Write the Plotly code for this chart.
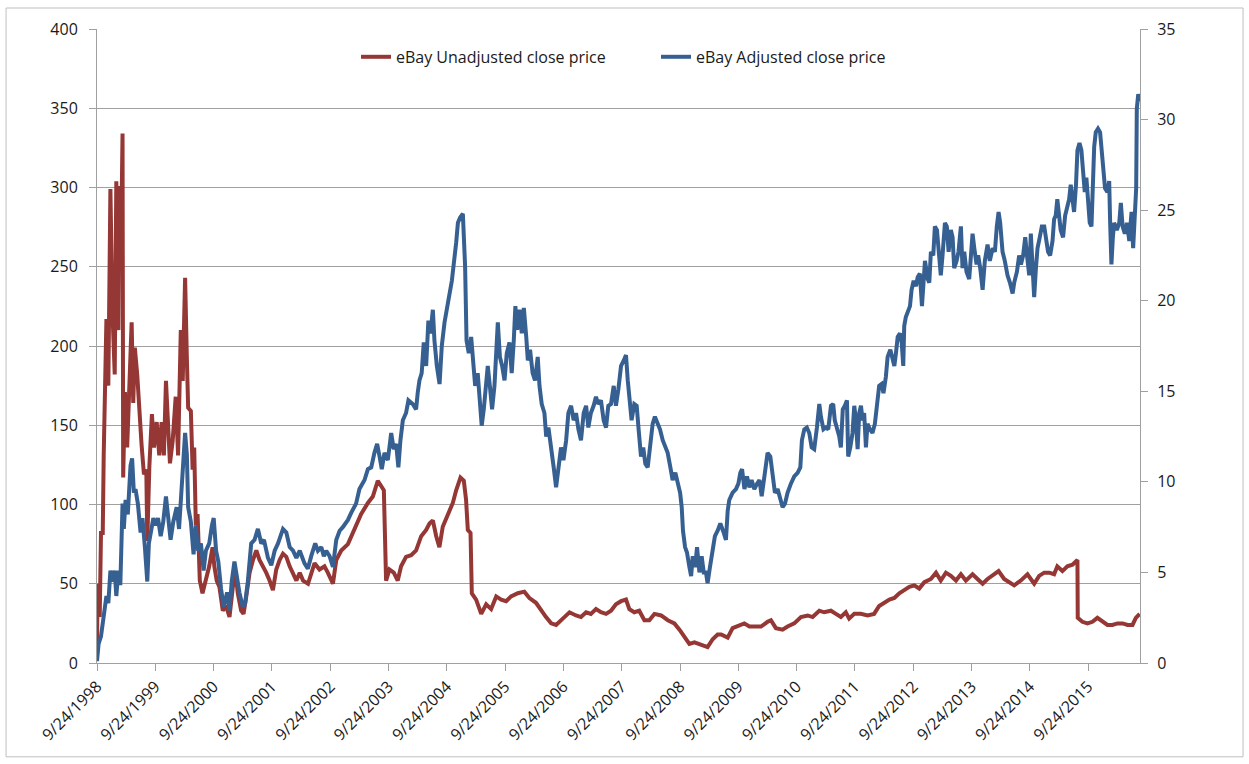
import plotly.graph_objects as go

# ---------------- data ----------------
unadj_dates = [
    "1998-09-24", "1998-09-28", "1998-10-11", "1998-10-19", "1998-10-30", "1998-11-05", "1998-11-22",
    "1998-12-04", "1998-12-17", "1998-12-29", "1999-01-13", "1999-01-23", "1999-02-05", "1999-02-11",
    "1999-02-20", "1999-03-03", "1999-03-07", "1999-03-18", "1999-04-01", "1999-04-18", "1999-04-29",
    "1999-05-09", "1999-05-19", "1999-06-03", "1999-06-20", "1999-06-30", "1999-07-15", "1999-07-30",
    "1999-08-05", "1999-08-18", "1999-09-03", "1999-09-16", "1999-10-03", "1999-10-19", "1999-11-03",
    "1999-11-17", "1999-11-30", "1999-12-12", "1999-12-25", "2000-01-11", "2000-01-30", "2000-02-14",
    "2000-03-02", "2000-03-14", "2000-03-29", "2000-04-09", "2000-04-17", "2000-05-04", "2000-05-15",
    "2000-05-25", "2000-06-04", "2000-06-15", "2000-06-29", "2000-07-16", "2000-08-06", "2000-08-27",
    "2000-09-17", "2000-09-28", "2000-10-13", "2000-10-30", "2000-11-20", "2000-12-11", "2001-01-01",
    "2001-01-22", "2001-02-08", "2001-02-22", "2001-03-15", "2001-03-30", "2001-04-16", "2001-05-07",
    "2001-05-28", "2001-06-18", "2001-07-08", "2001-07-30", "2001-08-19", "2001-09-09", "2001-09-30",
    "2001-10-21", "2001-11-11", "2001-12-02", "2001-12-23", "2002-01-13", "2002-02-03", "2002-02-24",
    "2002-03-17", "2002-04-07", "2002-05-08", "2002-06-18", "2002-07-19", "2002-08-19", "2002-09-09",
    "2002-10-11", "2002-11-01", "2002-12-02", "2003-01-13", "2003-02-23", "2003-04-06", "2003-05-18",
    "2003-06-18", "2003-07-19", "2003-08-09", "2003-08-26", "2003-09-09", "2003-09-30", "2003-10-27",
    "2003-11-21", "2003-12-12", "2004-01-12", "2004-02-13", "2004-03-15", "2004-04-16", "2004-05-17",
    "2004-06-07", "2004-06-28", "2004-07-19", "2004-08-08", "2004-08-29", "2004-09-30", "2004-10-31",
    "2004-11-21", "2004-12-18", "2005-01-08", "2005-01-22", "2005-02-02", "2005-02-19", "2005-02-27",
    "2005-03-26", "2005-04-27", "2005-05-28", "2005-06-28", "2005-07-30", "2005-08-30", "2005-09-30",
    "2005-10-31", "2005-12-12", "2006-01-22", "2006-02-23", "2006-04-05", "2006-05-07", "2006-06-07",
    "2006-07-09", "2006-08-09", "2006-09-20", "2006-11-01", "2006-12-12", "2007-01-12", "2007-02-13",
    "2007-03-15", "2007-04-16", "2007-05-17", "2007-06-18", "2007-07-19", "2007-08-19", "2007-09-20",
    "2007-10-21", "2007-11-11", "2007-12-12", "2008-01-12", "2008-02-13", "2008-03-15", "2008-04-16",
    "2008-05-28", "2008-07-09", "2008-08-19", "2008-09-20", "2008-10-21", "2008-11-21", "2008-12-23",
    "2009-01-23", "2009-02-23", "2009-03-15", "2009-04-16", "2009-05-17", "2009-06-08", "2009-07-19",
    "2009-08-19", "2009-09-30", "2009-10-31", "2009-12-02", "2010-01-02", "2010-02-13", "2010-03-26",
    "2010-04-16", "2010-05-17", "2010-06-28", "2010-07-29", "2010-09-09", "2010-10-21", "2010-12-02",
    "2011-01-02", "2011-02-13", "2011-03-15", "2011-04-27", "2011-05-28", "2011-06-28", "2011-07-29",
    "2011-08-19", "2011-09-20", "2011-10-31", "2011-12-12", "2012-01-22", "2012-02-23", "2012-03-26",
    "2012-04-27", "2012-05-28", "2012-06-28", "2012-07-29", "2012-08-30", "2012-09-30", "2012-10-31",
    "2012-12-02", "2013-01-12", "2013-02-13", "2013-03-15", "2013-04-16", "2013-05-17", "2013-06-18",
    "2013-07-19", "2013-08-19", "2013-09-30", "2013-10-31", "2013-12-02", "2014-01-02", "2014-02-03",
    "2014-03-12", "2014-04-16", "2014-05-17", "2014-06-18", "2014-07-29", "2014-09-09", "2014-10-21",
    "2014-11-21", "2014-12-23", "2015-01-23", "2015-02-23", "2015-03-15", "2015-04-16", "2015-05-17",
    "2015-06-18", "2015-07-19", "2015-07-21", "2015-08-19", "2015-09-20", "2015-10-21", "2015-11-21",
    "2015-12-23", "2016-01-23", "2016-02-23", "2016-03-26", "2016-04-27", "2016-05-28", "2016-06-28",
    "2016-07-19", "2016-08-12",
]
unadj_close = [
    10, 50, 29, 82, 82, 131, 217,
    175, 299, 224, 182, 304, 210, 301,
    250, 334, 117, 171, 136, 194, 215,
    164, 199, 182, 152, 138, 119, 122,
    77, 124, 157, 136, 152, 131, 152,
    131, 178, 157, 126, 140, 168, 131,
    210, 178, 243, 192, 161, 159, 122,
    136, 87, 94, 52, 44, 52, 61,
    73, 61, 52, 48, 33, 36, 29,
    48, 57, 44, 33, 31, 42, 57,
    65, 71, 65, 61, 57, 52, 46,
    59, 65, 69, 67, 61, 57, 52,
    57, 52, 50, 63, 59, 61, 57,
    50, 65, 71, 75, 84, 94, 101,
    105, 115, 111, 109, 52, 59, 57,
    52, 61, 67, 68, 71, 80, 84,
    88, 90, 80, 73, 86, 94, 101,
    109, 117, 115, 103, 84, 82, 44,
    40, 31, 37, 34, 42, 40, 39,
    42, 44, 45, 41, 38, 33, 29,
    25, 24, 28, 32, 30, 29, 32,
    31, 34, 32, 31, 33, 37, 39,
    40, 34, 32, 33, 27, 27, 31,
    30, 27, 25, 21, 16, 12, 13,
    12, 11, 10, 15, 18, 18, 16,
    22, 24, 25, 23, 23, 23, 26,
    27, 22, 21, 23, 25, 29, 30,
    29, 33, 32, 33, 31, 29, 32,
    28, 31, 31, 30, 31, 36, 38,
    40, 41, 44, 46, 48, 49, 47,
    51, 53, 57, 52, 57, 55, 52,
    56, 52, 56, 53, 50, 53, 55,
    58, 53, 51, 49, 52, 56, 50,
    55, 57, 57, 56, 61, 58, 61,
    62, 65, 28.5, 26, 25, 26, 28.5,
    26, 24, 24, 25, 25, 24, 24,
    28.5, 31,
]

adj_dates = [
    "1998-09-24", "1998-10-04", "1998-10-19", "1998-11-05", "1998-11-22", "1998-12-04", "1998-12-17",
    "1998-12-29", "1999-01-13", "1999-01-23", "1999-02-05", "1999-02-17", "1999-03-03", "1999-03-11",
    "1999-03-22", "1999-04-05", "1999-04-22", "1999-05-02", "1999-05-13", "1999-05-23", "1999-06-07",
    "1999-06-24", "1999-07-06", "1999-07-21", "1999-08-05", "1999-08-15", "1999-08-30", "1999-09-12",
    "1999-09-26", "1999-10-11", "1999-10-28", "1999-11-13", "1999-11-30", "1999-12-14", "1999-12-29",
    "2000-01-15", "2000-02-05", "2000-02-20", "2000-03-06", "2000-03-18", "2000-03-29", "2000-04-09",
    "2000-04-17", "2000-05-04", "2000-05-21", "2000-06-04", "2000-06-19", "2000-07-06", "2000-07-23",
    "2000-08-06", "2000-08-27", "2000-09-13", "2000-09-24", "2000-10-09", "2000-10-23", "2000-11-09",
    "2000-11-26", "2000-12-17", "2001-01-01", "2001-01-15", "2001-02-01", "2001-02-14", "2001-03-04",
    "2001-03-25", "2001-04-09", "2001-04-26", "2001-05-17", "2001-06-07", "2001-06-28", "2001-07-19",
    "2001-08-05", "2001-08-30", "2001-09-20", "2001-10-11", "2001-11-01", "2001-12-02", "2001-12-23",
    "2002-01-13", "2002-02-03", "2002-02-24", "2002-03-17", "2002-04-16", "2002-05-07", "2002-05-28",
    "2002-06-22", "2002-07-09", "2002-07-30", "2002-08-15", "2002-08-30", "2002-09-20", "2002-10-11",
    "2002-11-01", "2002-11-22", "2002-12-12", "2003-01-13", "2003-02-03", "2003-03-05", "2003-03-26",
    "2003-04-27", "2003-05-18", "2003-06-08", "2003-06-28", "2003-07-15", "2003-07-30", "2003-08-13",
    "2003-08-30", "2003-09-20", "2003-10-11", "2003-10-27", "2003-11-11", "2003-11-25", "2003-12-08",
    "2003-12-23", "2004-01-12", "2004-01-27", "2004-02-23", "2004-03-15", "2004-03-25", "2004-04-05",
    "2004-04-19", "2004-05-02", "2004-05-17", "2004-05-31", "2004-06-13", "2004-06-28", "2004-07-08",
    "2004-07-23", "2004-08-09", "2004-08-23", "2004-09-09", "2004-09-24", "2004-10-11", "2004-10-25",
    "2004-11-11", "2004-11-21", "2004-12-02", "2004-12-16", "2005-01-02", "2005-01-08", "2005-01-16",
    "2005-01-25", "2005-02-08", "2005-02-23", "2005-03-05", "2005-03-20", "2005-04-05", "2005-04-16",
    "2005-04-30", "2005-05-13", "2005-05-28", "2005-06-07", "2005-06-20", "2005-07-04", "2005-07-19",
    "2005-08-01", "2005-08-09", "2005-08-22", "2005-09-05", "2005-09-20", "2005-10-04", "2005-10-21",
    "2005-11-04", "2005-11-17", "2005-11-27", "2005-12-08", "2005-12-23", "2006-01-06", "2006-01-19",
    "2006-02-03", "2006-02-13", "2006-02-27", "2006-03-15", "2006-03-30", "2006-04-16", "2006-04-27",
    "2006-05-11", "2006-05-28", "2006-06-08", "2006-06-22", "2006-07-09", "2006-07-25", "2006-08-09",
    "2006-08-23", "2006-09-09", "2006-09-24", "2006-10-11", "2006-10-25", "2006-11-11", "2006-11-27",
    "2006-12-12", "2006-12-27", "2007-01-12", "2007-01-29", "2007-02-13", "2007-02-27", "2007-03-15",
    "2007-04-01", "2007-04-16", "2007-04-30", "2007-05-17", "2007-06-03", "2007-06-18", "2007-07-02",
    "2007-07-19", "2007-08-05", "2007-08-19", "2007-09-03", "2007-09-20", "2007-10-07", "2007-10-21",
    "2007-11-01", "2007-11-13", "2007-11-25", "2007-12-12", "2007-12-27", "2008-01-08", "2008-01-23",
    "2008-02-06", "2008-02-19", "2008-03-05", "2008-03-21", "2008-04-05", "2008-04-19", "2008-05-06",
    "2008-05-21", "2008-06-07", "2008-06-24", "2008-07-08", "2008-07-25", "2008-08-08", "2008-08-25",
    "2008-09-09", "2008-09-24", "2008-10-04", "2008-10-12", "2008-10-25", "2008-11-06", "2008-11-21",
    "2008-12-02", "2008-12-12", "2008-12-27", "2009-01-08", "2009-01-23", "2009-02-06", "2009-02-19",
    "2009-03-05", "2009-03-15", "2009-03-30", "2009-04-16", "2009-04-30", "2009-05-17", "2009-06-03",
    "2009-06-24", "2009-07-08", "2009-07-19", "2009-07-29", "2009-08-19", "2009-09-09", "2009-09-24",
    "2009-10-06", "2009-10-17", "2009-11-01", "2009-11-17", "2009-12-02", "2009-12-16", "2010-01-02",
    "2010-01-19", "2010-02-03", "2010-02-17", "2010-03-06", "2010-03-26", "2010-04-12", "2010-04-27",
    "2010-05-11", "2010-05-28", "2010-06-13", "2010-06-28", "2010-07-13", "2010-07-29", "2010-08-19",
    "2010-09-09", "2010-09-30", "2010-10-17", "2010-10-27", "2010-11-11", "2010-11-27", "2010-12-12",
    "2010-12-27", "2011-01-12", "2011-01-29", "2011-02-13", "2011-02-23", "2011-03-11", "2011-03-26",
    "2011-04-10", "2011-04-27", "2011-05-11", "2011-05-21", "2011-06-03", "2011-06-18", "2011-06-28",
    "2011-07-10", "2011-07-23", "2011-08-05", "2011-08-13", "2011-08-26", "2011-09-09", "2011-09-20",
    "2011-09-30", "2011-10-11", "2011-10-21", "2011-11-01", "2011-11-11", "2011-11-21", "2011-12-02",
    "2011-12-12", "2011-12-27", "2012-01-12", "2012-01-27", "2012-02-13", "2012-02-23", "2012-03-09",
    "2012-03-21", "2012-04-05", "2012-04-16", "2012-05-03", "2012-05-17", "2012-05-28", "2012-06-07",
    "2012-06-18", "2012-07-02", "2012-07-13", "2012-07-23", "2012-07-29", "2012-08-08", "2012-08-19",
    "2012-09-03", "2012-09-13", "2012-09-26", "2012-10-11", "2012-10-21", "2012-11-04", "2012-11-17",
    "2012-12-06", "2012-12-23", "2013-01-02", "2013-01-12", "2013-01-27", "2013-02-06", "2013-02-19",
    "2013-03-05", "2013-03-15", "2013-03-26", "2013-04-10", "2013-04-22", "2013-05-03", "2013-05-17",
    "2013-05-28", "2013-06-07", "2013-06-22", "2013-07-04", "2013-07-19", "2013-07-29", "2013-08-09",
    "2013-08-23", "2013-09-09", "2013-09-20", "2013-09-30", "2013-10-11", "2013-10-25", "2013-11-04",
    "2013-11-17", "2013-12-02", "2013-12-16", "2014-01-02", "2014-01-16", "2014-02-03", "2014-02-17",
    "2014-03-01", "2014-03-12", "2014-03-22", "2014-04-06", "2014-04-20", "2014-05-07", "2014-05-22",
    "2014-06-08", "2014-06-18", "2014-07-05", "2014-07-19", "2014-07-30", "2014-08-13", "2014-08-26",
    "2014-09-06", "2014-09-20", "2014-09-30", "2014-10-11", "2014-10-21", "2014-11-01", "2014-11-11",
    "2014-11-25", "2014-12-08", "2014-12-23", "2015-01-04", "2015-01-16", "2015-01-29", "2015-02-13",
    "2015-02-23", "2015-03-05", "2015-03-15", "2015-03-26", "2015-04-05", "2015-04-20", "2015-05-03",
    "2015-05-17", "2015-05-28", "2015-06-07", "2015-06-18", "2015-06-28", "2015-07-10", "2015-07-19",
    "2015-08-01", "2015-08-13", "2015-08-23", "2015-09-03", "2015-09-13", "2015-09-24", "2015-10-04",
    "2015-10-15", "2015-10-23", "2015-11-01", "2015-11-11", "2015-11-25", "2015-12-08", "2015-12-18",
    "2015-12-29", "2016-01-08", "2016-01-23", "2016-02-03", "2016-02-09", "2016-02-17", "2016-02-26",
    "2016-03-05", "2016-03-22", "2016-04-06", "2016-04-16", "2016-04-27", "2016-05-11", "2016-05-24",
    "2016-06-08", "2016-06-22", "2016-07-02", "2016-07-13", "2016-07-21", "2016-07-25", "2016-08-03",
    "2016-08-12",
]
adj_close = [
    0.1, 1.06, 1.47, 2.7, 3.7, 3.3, 5.1,
    4.5, 5.1, 3.7, 5.1, 4.3, 8.8, 7.4,
    9.0, 8.2, 10.9, 11.3, 9.4, 9.6, 8.8,
    7.2, 8.0, 6.4, 4.5, 6.6, 7.4, 8.0,
    7.6, 8.0, 7.0, 7.8, 9.2, 7.8, 6.8,
    7.8, 8.6, 7.4, 9.4, 10.9, 12.7, 11.5,
    8.6, 7.8, 6.0, 7.6, 6.2, 6.6, 5.1,
    6.2, 6.6, 7.6, 8.0, 6.2, 5.6, 4.1,
    3.1, 3.9, 2.9, 4.5, 5.6, 4.9, 3.9,
    3.1, 3.3, 4.5, 6.6, 6.8, 7.4, 6.6,
    6.8, 5.8, 5.4, 6.2, 6.6, 7.4, 7.2,
    6.4, 6.2, 5.8, 6.2, 5.5, 5.2, 5.9,
    6.6, 6.2, 6.4, 5.9, 6.2, 5.9, 5.3,
    6.8, 7.3, 7.5, 7.9, 8.3, 8.8, 9.6,
    10.1, 10.7, 10.8, 11.6, 12.1, 11.4, 10.7,
    11.6, 11.2, 12.7, 11.8, 12.1, 10.8, 12.3,
    13.4, 13.8, 14.5, 14.3, 14.0, 14.9, 15.6,
    16.0, 17.7, 16.4, 18.9, 18.2, 19.5, 17.8,
    16.4, 15.4, 17.5, 18.8, 19.7, 20.4, 21.1,
    22.3, 23.2, 24.3, 24.6, 24.8, 23.4, 21.9,
    17.8, 17.1, 18.0, 17.1, 15.3, 16.0, 14.5,
    13.1, 14.0, 15.6, 16.4, 15.3, 14.0, 15.3,
    17.7, 18.8, 16.9, 16.4, 15.6, 17.1, 17.7,
    16.0, 17.8, 19.7, 18.4, 19.5, 18.2, 19.6,
    18.0, 16.7, 17.3, 16.0, 15.6, 16.9, 15.3,
    14.3, 13.8, 12.5, 13.0, 11.6, 10.8, 9.7,
    10.8, 11.9, 11.2, 12.3, 13.8, 14.2, 13.4,
    13.8, 12.9, 12.3, 13.8, 14.2, 13.0, 13.8,
    14.2, 14.7, 14.3, 14.5, 13.4, 13.0, 14.2,
    14.3, 15.3, 14.2, 15.1, 16.4, 16.7, 17.0,
    15.6, 14.2, 13.4, 14.3, 14.2, 12.9, 11.4,
    11.9, 11.0, 10.8, 11.9, 13.2, 13.6, 13.2,
    12.9, 12.3, 11.9, 11.6, 10.8, 10.1, 10.5,
    9.9, 9.4, 8.6, 7.3, 6.4, 6.1, 5.3,
    4.8, 5.9, 5.3, 6.4, 5.0, 5.9, 5.0,
    5.0, 4.4, 5.3, 6.1, 7.0, 7.3, 7.7,
    7.2, 6.8, 8.4, 9.0, 9.4, 9.6, 9.9,
    10.5, 10.7, 9.6, 10.3, 9.7, 10.1, 9.6,
    9.9, 10.1, 9.2, 10.5, 11.6, 11.4, 10.5,
    9.4, 9.6, 9.0, 8.6, 8.8, 9.4, 9.9,
    10.3, 10.5, 10.8, 12.3, 12.9, 13.0, 12.7,
    11.9, 11.8, 13.0, 14.3, 13.6, 12.9, 13.0,
    12.9, 14.2, 14.3, 13.4, 13.0, 12.5, 11.9,
    14.0, 14.2, 14.5, 11.4, 11.9, 12.7, 14.2,
    13.4, 11.8, 13.8, 14.2, 13.4, 13.8, 11.9,
    13.2, 12.9, 12.7, 13.2, 14.5, 15.3, 15.4,
    14.9, 15.8, 16.9, 17.3, 16.7, 16.4, 17.1,
    18.0, 18.2, 17.7, 16.4, 18.6, 19.1, 19.3,
    19.7, 20.6, 21.1, 20.8, 21.3, 21.5, 19.7,
    22.2, 21.2, 21.0, 22.7, 22.5, 24.1, 23.9,
    22.2, 21.4, 22.5, 24.3, 24.1, 22.7, 23.9,
    23.5, 21.8, 22.2, 22.7, 24.1, 21.8, 22.7,
    21.6, 21.2, 22.5, 23.7, 22.9, 22.0, 22.5,
    21.8, 20.6, 22.2, 23.1, 22.2, 22.9, 22.7,
    24.1, 24.9, 24.3, 22.7, 22.2, 21.4, 21.0,
    20.4, 21.0, 21.6, 22.5, 22.0, 22.5, 23.5,
    22.5, 21.4, 23.7, 21.8, 20.2, 21.8, 22.9,
    23.5, 24.1, 24.1, 23.5, 22.7, 22.5, 23.3,
    24.5, 24.7, 25.6, 24.5, 23.9, 23.5, 24.7,
    25.2, 25.6, 26.4, 25.4, 24.9, 26.4, 28.3,
    28.7, 28.3, 27.2, 26.0, 26.8, 25.4, 24.3,
    24.1, 26.4, 28.5, 29.3, 29.5, 29.3, 28.3,
    27.7, 26.2, 26.0, 26.6, 24.3, 22.0, 23.5,
    24.3, 23.9, 24.3, 25.4, 24.1, 23.7, 24.3,
    23.3, 24.9, 22.9, 24.9, 26.2, 30.6, 31.4,
    31.0,
]

tick_dates = ["%d-09-24" % y for y in range(1998, 2016)]
tick_labels = ["9/24/%d" % y for y in range(1998, 2016)]

RED = "#953735"
BLUE = "#376092"
GRID = "#a0a0a0"
FONT = "Open Sans"
FSIZE = 16
TXT = "#1a1a1a"

fig = go.Figure()
fig.add_trace(go.Scatter(
    x=unadj_dates, y=unadj_close, mode="lines", name="eBay Unadjusted close price",
    line=dict(color=RED, width=4), yaxis="y",
))
fig.add_trace(go.Scatter(
    x=adj_dates, y=adj_close, mode="lines", name="eBay Adjusted close price",
    line=dict(color=BLUE, width=4), yaxis="y2",
))

fig.update_layout(
    width=1249, height=764,
    margin=dict(l=97, r=109, t=29, b=101),
    paper_bgcolor="white", plot_bgcolor="white",
    font=dict(family=FONT, size=FSIZE, color=TXT),
    showlegend=True,
    legend=dict(
        orientation="h", x=0.2483, xanchor="left", y=0.956, yanchor="middle",
        font=dict(family=FONT, size=FSIZE, color=TXT),
        bgcolor="rgba(0,0,0,0)", entrywidth=255, entrywidthmode="pixels",
    ),
    xaxis=dict(
        type="date", range=["1998-09-24", "2016-08-14"],
        tickmode="array", tickvals=tick_dates, ticktext=tick_labels,
        tickangle=-45, showgrid=False, zeroline=False,
        showline=True, linecolor=GRID, linewidth=1,
        ticks="outside", ticklen=7, tickcolor=GRID,
        tickfont=dict(family=FONT, size=FSIZE, color=TXT),
    ),
    yaxis=dict(
        range=[0, 400], dtick=50, tick0=0,
        showgrid=True, gridcolor=GRID, gridwidth=1, zeroline=False,
        showline=True, linecolor=GRID, linewidth=1,
        ticks="outside", ticklen=7, tickcolor=GRID,
        tickfont=dict(family=FONT, size=FSIZE, color=TXT),
        ticklabelstandoff=8,
    ),
    yaxis2=dict(
        range=[0, 35], dtick=5, tick0=0, overlaying="y", side="right",
        showgrid=False, zeroline=False,
        showline=True, linecolor=GRID, linewidth=1,
        ticks="outside", ticklen=7, tickcolor=GRID,
        tickfont=dict(family=FONT, size=FSIZE, color=TXT),
        ticklabelstandoff=6,
    ),
    shapes=[dict(
        type="rect", xref="paper", yref="paper",
        x0=-0.0872, x1=1.0988, y0=-0.148, y1=1.0331,
        line=dict(color="#bfbfbf", width=1), fillcolor="rgba(0,0,0,0)", layer="below",
    )],
)

fig.write_html(
    "out.html",
    config={"displayModeBar": False},
    post_script="document.body.style.margin='0px';document.body.style.padding='0px';",
)
